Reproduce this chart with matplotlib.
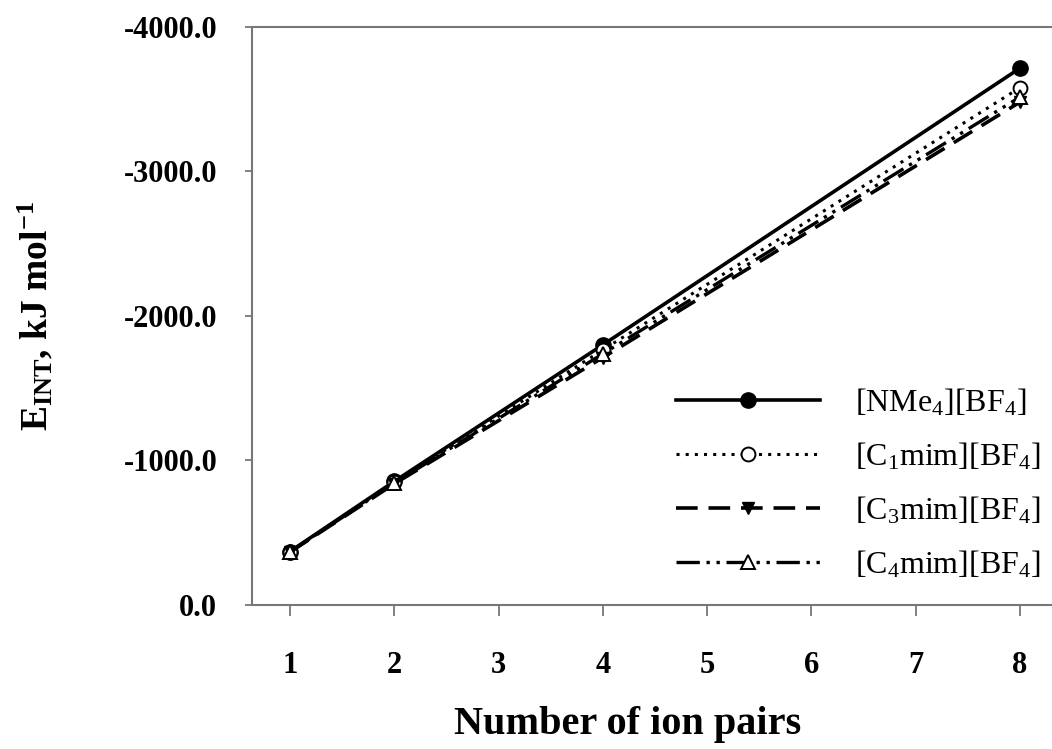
import matplotlib
matplotlib.use("Agg")
import matplotlib.pyplot as plt

# --- data ---
ion_pairs = [1, 2, 4, 8]
e_nme4 = [-370, -855, -1800, -3715]
e_c1mim = [-368, -848, -1765, -3580]
e_c3mim = [-366, -838, -1712, -3480]
e_c4mim = [-367, -843, -1738, -3515]

labels = ['[NMe$_4$][BF$_4$]', '[C$_1$mim][BF$_4$]',
          '[C$_3$mim][BF$_4$]', '[C$_4$mim][BF$_4$]']
x_ticks = [1, 2, 3, 4, 5, 6, 7, 8]
y_ticks = [0, -1000, -2000, -3000, -4000]

plt.rcParams['font.family'] = ['Liberation Serif', 'DejaVu Serif']
plt.rcParams['mathtext.fontset'] = 'custom'
plt.rcParams['mathtext.rm'] = 'Liberation Serif'
plt.rcParams['mathtext.it'] = 'Liberation Serif'
plt.rcParams['mathtext.bf'] = 'Liberation Serif:bold'

fig = plt.figure(figsize=(10.52, 7.49), dpi=100)
ax = fig.add_axes([0.2395, 0.1923, 0.7605, 0.7717])

ax.plot(ion_pairs, e_nme4, color='black', lw=2.6, ls='-', marker='o',
        ms=11, mfc='black', mec='black', label=labels[0])
ax.plot(ion_pairs, e_c1mim, color='black', lw=2.2, ls=(0, (1, 2)), marker='o',
        ms=10, mfc='white', mec='black', mew=1.4, label=labels[1])
ax.plot(ion_pairs, e_c3mim, color='black', lw=2.6, ls=(0, (6, 3)), marker='v',
        ms=9, mfc='black', mec='black', label=labels[2])
ax.plot(ion_pairs, e_c4mim, color='black', lw=2.4, ls=(0, (7, 2, 1, 2, 1, 2)),
        marker='^', ms=10, mfc='white', mec='black', mew=1.4, label=labels[3])

ax.set_xlim(0.636, 8.307)
ax.set_ylim(0, -4000)
ax.set_xticks(x_ticks)
ax.set_yticks(y_ticks)
ax.set_yticklabels([f'{v:.1f}' for v in y_ticks])

for side in ['left', 'top', 'bottom']:
    ax.spines[side].set_color('#777777')
    ax.spines[side].set_linewidth(1.5)
ax.spines['right'].set_visible(False)

ax.tick_params(axis='y', direction='out', length=5, width=1.3, color='#777777',
               pad=20, labelsize=22)
ax.tick_params(axis='x', direction='out', length=8, width=1.3, color='#777777',
               pad=25, labelsize=22)
for lab in ax.get_xticklabels() + ax.get_yticklabels():
    lab.set_fontweight('bold')

ax.set_xlabel('Number of ion pairs', fontsize=29, fontweight='bold')
ax.xaxis.set_label_coords(0.47, -0.175)
ax.set_ylabel(r'E$_{\mathbf{INT}}$, kJ mol$^{\mathbf{-1}}$', fontsize=27,
              fontweight='bold')
ax.yaxis.set_label_coords(-0.245, 0.5)

leg = ax.legend(loc='lower right', bbox_to_anchor=(1.01, 0.01), frameon=False,
                fontsize=23, handlelength=4.5, handletextpad=1.1,
                labelspacing=0.7, borderaxespad=0.2)

plt.savefig('out.png', dpi=100)
